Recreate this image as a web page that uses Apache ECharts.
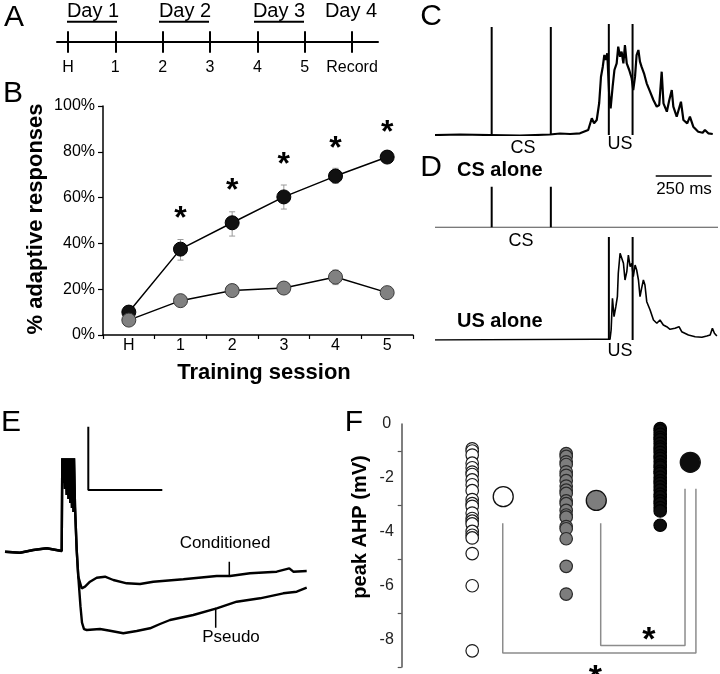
<!DOCTYPE html>
<html><head><meta charset="utf-8">
<script src="https://cdn.jsdelivr.net/npm/echarts@6/dist/echarts.min.js"></script>
<style>html,body{margin:0;padding:0;background:#fff}#c{width:720px;height:674px}</style>
</head><body><div id="c"></div>
<script>
// ---------- Panel A: protocol timeline ----------
const timelineTicks = [0, 1, 2, 3, 4, 5, 6];
const timelineLabels = ['H', '1', '2', '3', '4', '5', 'Record'];
const dayLabels = ['Day 1', 'Day 2', 'Day 3', 'Day 4'];

// ---------- Panel B: % adaptive responses ----------
const sessions = ['H', '1', '2', '3', '4', '5'];
const condPct = [10, 37.5, 49, 60.3, 69.4, 77.7];
const condLo = [8.8, 32.7, 43.2, 55, 66.2, 76.2];
const condHi = [11.2, 41.7, 53.8, 65.5, 72.8, 79.3];
const pseudoPct = [6.5, 15, 19.4, 20.5, 25.3, 18.5];
const pseudoLo = [5.5, 13.5, 18.2, 19.2, 22, 17.2];
const pseudoHi = [7.5, 16.5, 20.6, 21.8, 28.4, 19.8];
const starSessions = [1, 2, 3, 4, 5];
const starLevels = [53.8, 65.9, 77.3, 84.4, 91.3];

// ---------- Panel C: paired trial trace (ms, a.u.) ----------
const cT = [0,112,246,379,513,558,603,647,684,700,710,722,733,741,749,756,763,769,778,784,793,801,811,818,826,833,841,848,856,867,878,885,893,900,908,915,922,933,945,960,975,990,1001,1012,1020,1035,1046,1057,1064,1079,1098,1109,1126,1138,1153,1175,1195,1205,1220,1240];
const cV = [0,0.5,0,-0.5,0.5,1.5,1,1.7,5,16.7,11.7,15,32,58.3,68.3,80,75,81.7,38.3,26.7,48.3,65,71.7,88.3,78.3,83.3,71.7,90,71.7,65,56.7,45,58.3,80,85,73.3,68.3,61.7,51.7,43.3,35,28.3,30,63.3,31.7,23.3,35,45,28.3,18.3,33.3,15,11.7,18.3,8.3,3.3,2.3,5,1.7,1];
const csTimes = [253, 517];
const usTimes = [776, 882];

// ---------- Panel D: CS alone / US alone ----------
const dCsEnd = 1263;
const dUsT = [0,714,781,786,792,799,807,814,818,826,833,841,848,856,863,871,878,885,893,900,908,915,922,930,937,945,960,975,990,1004,1019,1034,1049,1071,1089,1101,1131,1161,1191,1213,1228,1238,1247,1258];
const dUsV = [0,0.7,0.7,10,41.7,23.3,33.3,43.3,66.7,86.7,87.3,76.7,60,68.3,85,73.3,76.7,63.3,75,70,60,43.3,51.7,60,55,38.3,30,20,16.7,20,15,13.3,10.7,11.7,13.3,8.3,5,3.3,2.7,4,5,11.7,6.7,4];
const scaleBarMs = [985, 1235];

// ---------- Panel E: AHP traces ----------
const eSharedT = [0,15,28.3,41.7,56.7,57.3,58.3,59,60,60.7,61.7,62.5,63.5,64.3,65.3,66,67,67.7,68.5,69,70,71.7,73.3];
const eSharedV = [0,-1,1.7,3.4,0.7,93.4,68.7,93.4,62.7,93.4,56.7,93.4,52.7,93.4,48.7,93.4,43.7,93.4,39.7,93.4,45,1.7,-25];
const eCondT = [76.7,80,85,91.7,100,108.3,121.7,135,148.3,178.3,211.7,225,245,271.7,284.3,288.3,301.7];
const eCondV = [-36.6,-35,-30,-26,-25,-28.3,-31.6,-32.3,-30,-27.6,-24.3,-24.3,-21.6,-20,-16.6,-20,-19.3];
const ePseudoT = [75.5,77,79,81.7,95,105,118.3,131.7,145,155,165,188.3,211.7,231.7,255,278.3,291.7,301.7];
const ePseudoV = [-55,-71,-77.5,-78.3,-77.3,-79,-81.6,-79.3,-76.6,-72.3,-68.3,-63.3,-56.6,-50,-46.6,-41.6,-40,-36];

// ---------- Panel F: peak AHP (mV) ----------
const groupX = [0.75, 1.75, 2.75];
const meanX = [1.08, 2.07, 3.07];
const whiteVals = [-0.92,-1.0,-1.15,-1.45,-1.62,-1.78,-1.87,-2.07,-2.25,-2.47,-2.8,-2.95,-3.05,-3.3,-3.5,-3.6,-3.7,-3.98,-4.12,-4.22,-4.8,-5.99,-8.4];
const grayVals = [-1.1,-1.2,-1.4,-1.5,-1.77,-1.9,-2.1,-2.3,-2.45,-2.57,-2.85,-2.95,-3.2,-3.37,-3.45,-3.8,-3.88,-4.25,-5.27,-6.3];
const blackVals = [-0.17,-0.25,-0.38,-0.5,-0.58,-0.72,-0.85,-0.93,-1.05,-1.18,-1.27,-1.4,-1.52,-1.6,-1.75,-1.83,-1.97,-2.1,-2.2,-2.33,-2.45,-2.6,-2.7,-2.85,-2.95,-3.1,-3.22,-3.75];
const groupMeans = [-2.69, -2.83, -1.42];
const fStarX = [2.63, 2.06];
const fStarY = [-7.74, -9.12];

const FONT = '"Liberation Sans", Arial, Helvetica, sans-serif';
const chart = echarts.init(document.getElementById('c'), null, {renderer: 'canvas', width: 720, height: 674});

const hiddenAxis = (gi, min, max) => ({gridIndex: gi, type: 'value', min, max, show: false, splitLine: {show: false}});
const pairs = (t, v) => t.map((x, i) => [x, v[i]]);
const blackLine = {color: '#000', width: 1.5};

function stimSeries(xi, yi, t, h) {
  return {type: 'line', xAxisIndex: xi, yAxisIndex: yi, data: [[t, 0], [t, h]], symbol: 'none',
    lineStyle: {color: '#000', width: 2}, silent: true, z: 3};
}
function plainLine(xi, yi, data, color, width, z) {
  return {type: 'line', xAxisIndex: xi, yAxisIndex: yi, data, symbol: 'none',
    lineStyle: {color, width}, silent: true, z: z || 2};
}
function txt(text, x, y, size, opts) {
  opts = opts || {};
  return {type: 'text', x, y, rotation: opts.rot || 0, z: 10,
    style: {text, x: 0, y: 0, fill: '#000', font: (opts.bold ? 'bold ' : '') + size + 'px ' + FONT,
      textAlign: opts.align || 'center', textVerticalAlign: 'middle', align: opts.align || 'center', verticalAlign: 'middle'}};
}
function hline(x1, y1, x2, y2, w) {
  return {type: 'line', z: 10, shape: {x1, y1, x2, y2}, style: {stroke: '#000', lineWidth: w || 2}};
}
// significance stars drawn at data coordinates
function starSeries(xi, yi, data, size, dy) {
  return {type: 'custom', xAxisIndex: xi, yAxisIndex: yi, z: 6, silent: true, clip: false, data,
    renderItem(params, api) {
      const p = api.coord([api.value(0), api.value(1)]);
      return {type: 'text', x: p[0], y: p[1] + dy,
        style: {text: '*', fill: '#000', font: 'bold ' + size + 'px ' + FONT,
          textAlign: 'center', textVerticalAlign: 'middle', align: 'center', verticalAlign: 'middle'}};
    }};
}

const series = [];
// B error bars
function errSeries(lo, hi) {
  return {type: 'custom', xAxisIndex: 2, yAxisIndex: 1, z: 1, silent: true,
    data: lo.map((v, i) => [i, v, hi[i]]),
    renderItem(params, api) {
      const x = api.value(0);
      const a = api.coord([x, api.value(1)]);
      const b = api.coord([x, api.value(2)]);
      const st = {stroke: '#9a9a9a', lineWidth: 1};
      return {type: 'group', children: [
        {type: 'line', shape: {x1: a[0], y1: a[1], x2: b[0], y2: b[1]}, style: st},
        {type: 'line', shape: {x1: a[0] - 3, y1: a[1], x2: a[0] + 3, y2: a[1]}, style: st},
        {type: 'line', shape: {x1: b[0] - 3, y1: b[1], x2: b[0] + 3, y2: b[1]}, style: st}
      ]};
    }};
}
series.push(errSeries(condLo, condHi));
series.push(errSeries(pseudoLo, pseudoHi));
series.push({type: 'line', xAxisIndex: 2, yAxisIndex: 1, data: condPct, symbol: 'circle', symbolSize: 14,
  itemStyle: {color: '#111', borderColor: '#000', borderWidth: 1}, lineStyle: blackLine, z: 3});
series.push({type: 'line', xAxisIndex: 2, yAxisIndex: 1, data: pseudoPct, symbol: 'circle', symbolSize: 14,
  itemStyle: {color: '#818181', borderColor: '#3a3a3a', borderWidth: 1}, lineStyle: blackLine, z: 4});
series.push(starSeries(2, 1, starSessions.map((s, i) => [s, starLevels[i]]), 32, 7));

// C
series.push({type: 'line', xAxisIndex: 3, yAxisIndex: 2, data: pairs(cT, cV), symbol: 'none',
  lineStyle: {color: '#000', width: 2.2}, silent: true});
csTimes.forEach(t => series.push(stimSeries(3, 2, t, 108)));
usTimes.forEach(t => series.push(stimSeries(3, 2, t, 111)));

// D CS alone
series.push(plainLine(4, 3, [[0, 0], [dCsEnd, 0]], '#222', 1));
csTimes.forEach(t => series.push(stimSeries(4, 3, t, 40.6)));
series.push(plainLine(4, 3, [[scaleBarMs[0], 51.3], [scaleBarMs[1], 51.3]], '#000', 1.5));
// D US alone
series.push(plainLine(5, 4, pairs(dUsT, dUsV), '#000', 1.6));
usTimes.forEach(t => series.push(stimSeries(5, 4, t, 103)));

// E
series.push(plainLine(6, 5, pairs(eSharedT.concat(eCondT), eSharedV.concat(eCondV)), '#000', 2.4));
series.push(plainLine(6, 5, pairs(eSharedT.concat(ePseudoT), eSharedV.concat(ePseudoV)), '#000', 2.4));
series.push(plainLine(6, 5, [[83.3, 125], [83.3, 61.7], [157.3, 61.7]], '#000', 2));
series.push(plainLine(6, 5, [[224.3, -10], [224.3, -23.3]], '#000', 1.5));
series.push(plainLine(6, 5, [[210.7, -56], [210.7, -76]], '#000', 1.5));

// F brackets
series.push(plainLine(7, 6, [[1.075, -3.68], [1.075, -8.48], [3.13, -8.48], [3.13, -2.4]], '#8c8c8c', 1.5, 1));
series.push(plainLine(7, 6, [[2.117, -3.68], [2.117, -8.2], [3.014, -8.2], [3.014, -2.4]], '#8c8c8c', 1.5, 1));
const fScatter = (vals, x, fill, border) => ({type: 'scatter', xAxisIndex: 7, yAxisIndex: 6,
  data: vals.map(v => [x, v]), symbolSize: 12.5, silent: true,
  itemStyle: {color: fill, borderColor: border, borderWidth: 1.2, opacity: 1}, z: 3});
series.push(fScatter(whiteVals, groupX[0], '#ffffff', '#1a1a1a'));
series.push(fScatter(grayVals, groupX[1], '#7d7d7d', '#2a2a2a'));
series.push(fScatter(blackVals, groupX[2], '#0d0d0d', '#000'));
const meanFill = ['#ffffff', '#7d7d7d', '#0d0d0d'];
series.push({type: 'scatter', xAxisIndex: 7, yAxisIndex: 6, symbolSize: 20, silent: true, z: 3,
  data: groupMeans.map((m, i) => ({value: [meanX[i], m], itemStyle: {color: meanFill[i], borderColor: '#111', borderWidth: 1.3, opacity: 1}}))});
series.push(starSeries(7, 6, fStarX.map((x, i) => [x, fStarY[i]]), 34, 8));

const gridBase = {containLabel: false, outerBoundsMode: 'none', show: false};
const option = {
  animation: false,
  backgroundColor: '#fff',
  textStyle: {fontFamily: FONT},
  grid: [
    Object.assign({left: 57, top: 10, width: 321, height: 31.7}, gridBase),
    Object.assign({left: 103, top: 106, width: 310, height: 229}, gridBase),
    Object.assign({left: 435, top: 20, width: 280, height: 115}, gridBase),
    Object.assign({left: 435, top: 112.3, width: 283, height: 115}, gridBase),
    Object.assign({left: 435, top: 225, width: 283, height: 115}, gridBase),
    Object.assign({left: 5, top: 421.7, width: 302, height: 230}, gridBase),
    Object.assign({left: 401.7, top: 424, width: 319.6, height: 243}, gridBase)
  ],
  xAxis: [
    {gridIndex: 0, type: 'value', position: 'bottom', min: -0.232, max: 6.549, splitLine: {show: false},
      axisLine: {show: true, onZero: false, lineStyle: {color: '#000', width: 2}},
      axisTick: {show: true, customValues: timelineTicks, length: 11, lineStyle: {color: '#000', width: 2}},
      axisLabel: {show: true, customValues: timelineTicks, formatter: v => timelineLabels[Math.round(v)], margin: 18, fontSize: 16, color: '#000', fontFamily: FONT}},
    {gridIndex: 0, type: 'value', position: 'bottom', offset: 0, min: -0.232, max: 6.549, splitLine: {show: false},
      axisLine: {show: false, onZero: false},
      axisTick: {show: true, inside: true, customValues: timelineTicks, length: 10.5, lineStyle: {color: '#000', width: 2}},
      axisLabel: {show: false}},
    {gridIndex: 1, type: 'category', data: sessions, boundaryGap: true,
      axisLine: {show: true, onZero: false, lineStyle: {color: '#000', width: 1.5}},
      axisTick: {show: true, length: 4, lineStyle: {color: '#000', width: 1.2}},
      axisLabel: {fontSize: 16, color: '#000', margin: 3, fontFamily: FONT}},
    hiddenAxis(2, 0, 1250),
    hiddenAxis(3, 0, dCsEnd),
    hiddenAxis(4, 0, dCsEnd),
    hiddenAxis(5, 0, 302),
    hiddenAxis(6, 0, 3.4)
  ],
  yAxis: [
    hiddenAxis(0, 0, 1),
    {gridIndex: 1, type: 'value', min: 0, max: 100, interval: 20, splitLine: {show: false},
      axisLine: {show: true, lineStyle: {color: '#000', width: 1.5}},
      axisTick: {show: true, length: 5, lineStyle: {color: '#000', width: 1.2}},
      axisLabel: {formatter: '{value}%', fontSize: 16, color: '#000', margin: 8, fontFamily: FONT}},
    hiddenAxis(2, 0, 115),
    hiddenAxis(3, 0, 115),
    hiddenAxis(4, 0, 115),
    hiddenAxis(5, -100, 130),
    {gridIndex: 6, type: 'value', min: -9, max: 0, splitLine: {show: false},
      axisLine: {show: true, lineStyle: {color: '#555', width: 1.5}},
      axisTick: {show: true, customValues: [-9, -7, -5, -3, -1], length: 4, lineStyle: {color: '#555', width: 1.2}},
      axisLabel: {customValues: [0, -2, -4, -6, -8], formatter: v => String(v), align: 'center', margin: 15, fontSize: 16, color: '#222', fontFamily: FONT}}
  ],
  series,
  graphic: {elements: [
    txt('A', 14, 18, 30), txt('B', 13, 94, 30), txt('C', 431, 17, 30), txt('D', 431, 168, 30),
    txt('E', 11, 423, 30), txt('F', 354, 423, 30),
    txt(dayLabels[0], 93, 11, 20), txt(dayLabels[1], 185, 11, 20), txt(dayLabels[2], 279, 11, 20), txt(dayLabels[3], 351, 11, 20),
    hline(67, 21.7, 117, 21.7), hline(159, 21.7, 209, 21.7), hline(254, 21.7, 304, 21.7),
    txt('% adaptive responses', 36, 219, 22, {bold: true, rot: Math.PI / 2}),
    txt('Training session', 264, 373, 22, {bold: true}),
    txt('CS', 523, 148, 18), txt('US', 620, 144, 18),
    txt('CS alone', 457, 170, 20, {bold: true, align: 'left'}),
    txt('250 ms', 684, 189, 17),
    txt('CS', 521, 241, 18),
    txt('US alone', 457, 321, 20, {bold: true, align: 'left'}),
    txt('US', 620, 351, 18),
    txt('Conditioned', 225, 543, 17), txt('Pseudo', 231, 637, 17),
    txt('peak AHP (mV)', 360, 527, 20, {bold: true, rot: Math.PI / 2})
  ]}
};
chart.setOption(option);
</script>
</body></html>
